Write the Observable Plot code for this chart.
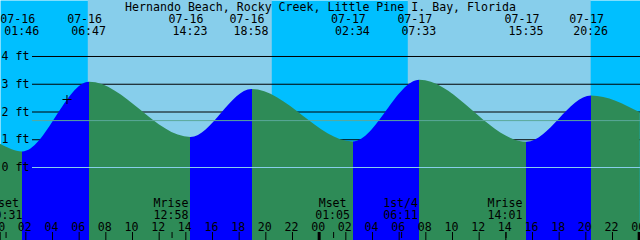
<!DOCTYPE html>
<html><head><meta charset="utf-8">
<script src="https://cdn.jsdelivr.net/npm/d3@7"></script>
<script src="https://cdn.jsdelivr.net/npm/@observablehq/plot@0.6"></script>
<style>
html,body{margin:0;padding:0;background:#fff;}
#chart svg{display:block;}
</style></head><body><div id="chart"></div>
<script>
const title = "Hernando Beach, Rocky Creek, Little Pine I. Bay, Florida";

// tide extremes (labels at top)
const eventStamps = ["07-16 01:46","07-16 06:47","07-16 14:23","07-16 18:58","07-17 02:34","07-17 07:33","07-17 15:35","07-17 20:26"];
const eventKinds  = ["low","high","low","high","low","high","low","high"];

// tide level readings (ft): the chart edges and each high / low water
const curveStamps = ["07-16 00:05","07-16 01:46","07-16 06:47","07-16 14:23","07-16 18:58","07-17 02:34","07-17 07:33","07-17 15:35","07-17 20:26","07-18 00:05"];
const curveLevels = [0.84,0.56,3.07,1.08,2.81,0.92,3.14,0.91,2.58,1.97];

const sunriseStamps = ["07-16 06:41","07-17 06:41"];
const sunsetStamps  = ["07-16 20:29","07-17 20:24"];

const moonLabels = ["Mset","Mrise","Mset","1st/4","Mrise"];
const moonStamps = ["07-16 00:31","07-16 12:58","07-17 01:05","07-17 06:11","07-17 14:01"];

const hourTicks  = [0,2,4,6,8,10,12,14,16,18,20,22,24,26,28,30,32,34,36,38,40,42,44,46,48];
const hourLabels = ["00","02","04","06","08","10","12","14","16","18","20","22","00","02","04","06","08","10","12","14","16","18","20","22","00"];

const depthTicks = [0,1,2,3,4];
const depthLines = [1,2,3,4];
const mslLevel = 1.69;
const nowStamp = "07-16 05:05";
const nowLevel = 2.45;

// colours
const nightColor = "#00BFFF", dayColor = "#87CEEB";
const floodColor = "#0000FF", ebbColor = "#2E8B57";
const datumColor = "#87CEEB", mslColor = "#5BA89A";

function hours(s) {
  const [md, hm] = s.split(" ");
  const day = +md.split("-")[1];
  const [h, m] = hm.split(":").map(Number);
  return (day - 16) * 24 + h + m / 60;
}
const eventT = eventStamps.map(hours);
const curveT = curveStamps.map(hours);
const riseT = sunriseStamps.map(hours), setT = sunsetStamps.map(hours);
const moonT = moonStamps.map(hours);

const xDomain = [0.1, 48.1];
const yDomain = [-2.6306, 6.018];
const font = "DejaVu Sans Mono";
const fs = 11.6;
const txt = {fontFamily: font, fontSize: fs, fill: "black"};

const chart = Plot.plot({
  width: 640, height: 240,
  margin: 0, marginTop: 0, marginBottom: 0, marginLeft: 0, marginRight: 0,
  x: {domain: xDomain, range: [0, 640], axis: null},
  y: {domain: yDomain, range: [240, 0], axis: null},
  style: {fontFamily: font, fontSize: fs + "px", background: "none", color: "black", overflow: "hidden"},
  marks: [
    Plot.frame({fill: nightColor, stroke: "none"}),
    Plot.rect(d3.range(riseT.length), {x1: i => riseT[i], x2: i => setT[i], fill: dayColor}),
    Plot.ruleY(depthLines, {y: d => d, stroke: "black", insetLeft: 32}),
    Plot.areaY(d3.range(curveT.length), {
      x: i => curveT[i], y1: () => yDomain[0], y2: i => curveLevels[i],
      curve: "monotone-x", fill: "url(#tideFill)"
    }),
    Plot.ruleY([mslLevel], {y: d => d, stroke: mslColor, insetLeft: 32}),
    Plot.ruleY([0], {y: d => d, stroke: datumColor, insetLeft: 32}),
    Plot.text(depthTicks, {y: d => d, text: d => `${d} ft`, frameAnchor: "left", textAnchor: "start", lineAnchor: "middle", dx: 1, ...txt}),
    Plot.dot([0], {x: () => hours(nowStamp), y: () => nowLevel, r: 4.5, stroke: "black", fill: "none", strokeWidth: 1,
      symbol: {draw(ctx, size) { const r = Math.sqrt(size / Math.PI); ctx.moveTo(-r, 0); ctx.lineTo(r, 0); ctx.moveTo(0, -r); ctx.lineTo(0, r); }}}),
    // title and tide events
    Plot.text([title], {text: d => d, frameAnchor: "top", lineAnchor: "bottom", dy: 10, ...txt}),
    Plot.text(d3.range(eventT.length), {x: i => eventT[i], text: i => eventStamps[i].split(" ")[0], frameAnchor: "top", lineAnchor: "bottom", dy: 22, dx: -5, ...txt}),
    Plot.text(d3.range(eventT.length), {x: i => eventT[i], text: i => eventStamps[i].split(" ")[1], frameAnchor: "top", lineAnchor: "bottom", dy: 34, dx: -1, ...txt}),
    // moon events
    Plot.text(d3.range(moonT.length), {x: i => moonT[i], text: i => moonLabels[i], frameAnchor: "bottom", lineAnchor: "bottom", dy: -34, dx: -1, ...txt}),
    Plot.text(d3.range(moonT.length), {x: i => moonT[i], text: i => moonStamps[i].split(" ")[1], frameAnchor: "bottom", lineAnchor: "bottom", dy: -22, dx: -1, ...txt}),
    Plot.ruleX(moonT, {x: d => d, stroke: "black", insetTop: 232, insetBottom: 2}),
    // hour axis
    Plot.text(d3.range(hourTicks.length), {x: i => hourTicks[i], text: i => hourLabels[i], frameAnchor: "bottom", lineAnchor: "bottom", dy: -10, dx: -1, ...txt}),
    Plot.ruleX(hourTicks, {x: d => d, stroke: "black", strokeWidth: d => (d % 24 === 0 ? 3 : 1), insetTop: 232})
  ]
});

// tide fill gradient: flood (rising) vs ebb (falling), split at extremes via the x scale
const xs = chart.scale("x");
const ns = "http://www.w3.org/2000/svg";
const defs = document.createElementNS(ns, "defs");
const lg = document.createElementNS(ns, "linearGradient");
lg.setAttribute("id", "tideFill");
lg.setAttribute("gradientUnits", "userSpaceOnUse");
lg.setAttribute("x1", 0); lg.setAttribute("x2", 640);
lg.setAttribute("y1", 0); lg.setAttribute("y2", 0);
const bounds = [xDomain[0], ...eventT, xDomain[1]];
for (let k = 0; k < bounds.length - 1; k++) {
  const endKind = k < eventKinds.length ? eventKinds[k] : (eventKinds[eventKinds.length - 1] === "high" ? "low" : "high");
  const col = endKind === "high" ? floodColor : ebbColor;
  for (const t of [bounds[k], bounds[k + 1]]) {
    const s = document.createElementNS(ns, "stop");
    s.setAttribute("offset", Math.max(0, Math.min(1, xs.apply(t) / 640)));
    s.setAttribute("stop-color", col);
    lg.appendChild(s);
  }
}
defs.appendChild(lg);
chart.insertBefore(defs, chart.firstChild);
document.getElementById("chart").appendChild(chart);
</script></body></html>
